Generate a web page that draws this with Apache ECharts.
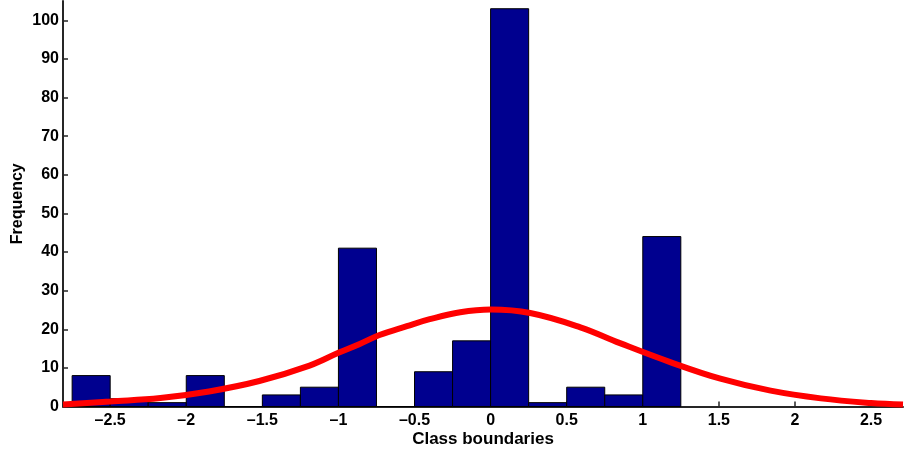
<!DOCTYPE html>
<html>
<head>
<meta charset="utf-8">
<script src="https://cdn.jsdelivr.net/npm/echarts@6/dist/echarts.min.js"></script>
</head>
<body style="margin:0;background:#fff">
<div id="main" style="width:904px;height:451px;"></div>
<script type="text/javascript">
    // histogram bins (left edge, right edge) and counts
    var binLeft  = [-2.75, -2.5, -2.25, -2, -1.75, -1.5, -1.25, -1, -0.75, -0.5, -0.25, 0, 0.25, 0.5, 0.75, 1];
    var binRight = [-2.5, -2.25, -2, -1.75, -1.5, -1.25, -1, -0.75, -0.5, -0.25, 0, 0.25, 0.5, 0.75, 1, 1.25];
    var counts   = [8, 2, 1, 8, 0, 3, 5, 41, 0, 9, 17, 103, 1, 5, 3, 44];

    // fitted curve
    var curveX = [-2.81, -2.5, -2.17, -1.85, -1.52, -1.19, -1.0, -0.86, -0.73, -0.55, -0.4, -0.2, 0, 0.26, 0.59, 0.85, 1.18, 1.51, 1.84, 2.17, 2.5, 2.71];
    var curveY = [0.5, 1.3, 2.2, 3.9, 6.6, 10.6, 13.9, 16.2, 18.5, 20.8, 22.6, 24.4, 25.1, 24.2, 20.5, 16.4, 11.5, 7.2, 4.1, 2.1, 0.9, 0.5];

    var xTicks = [-2.5, -2, -1.5, -1, -0.5, 0, 0.5, 1, 1.5, 2, 2.5];
    var yTicks = [0, 10, 20, 30, 40, 50, 60, 70, 80, 90, 100];

    var myChart = echarts.init(document.getElementById('main'));

    var font = 'Liberation Sans, Arial, sans-serif';
    var axisColor = '#262626';

    var option = {
        animation: false,
        grid: { left: 63, right: 1, top: 1, bottom: 44.5, outerBoundsMode: 'none', containLabel: false },
        xAxis: {
            type: 'value',
            min: -2.81,
            max: 2.71,
            name: 'Class boundaries',
            nameLocation: 'middle',
            nameGap: 24,
            nameMoveOverlap: false,
            nameTextStyle: { color: '#000', fontWeight: 'bold', fontSize: 17, fontFamily: font },
            splitLine: { show: false },
            axisLine: { onZero: false, lineStyle: { color: axisColor, width: 2 } },
            axisTick: { inside: true, length: 5, customValues: xTicks, lineStyle: { color: axisColor, width: 1.5 } },
            axisLabel: {
                customValues: xTicks,
                margin: 6,
                color: '#000', fontWeight: 'bold', fontSize: 16, fontFamily: font,
                formatter: function (v) { return String(v).replace('-', '\u2013'); }
            }
        },
        yAxis: {
            type: 'value',
            min: 0,
            max: 105,
            name: 'Frequency',
            nameLocation: 'middle',
            nameGap: 37,
            nameMoveOverlap: false,
            nameTextStyle: { color: '#000', fontWeight: 'bold', fontSize: 16, fontFamily: font },
            splitLine: { show: false },
            axisLine: { show: true, onZero: false, lineStyle: { color: axisColor, width: 2 } },
            axisTick: { show: true, inside: true, length: 5, customValues: yTicks, lineStyle: { color: axisColor, width: 1.5 } },
            axisLabel: {
                customValues: yTicks,
                margin: 4,
                color: '#000', fontWeight: 'bold', fontSize: 16, fontFamily: font
            }
        },
        series: [{
            type: 'custom',
            data: counts.map(function (c, i) { return [binLeft[i], binRight[i], c]; }),
            renderItem: function (params, api) {
                var p0 = api.coord([api.value(0), 0]);
                var p1 = api.coord([api.value(1), api.value(2)]);
                return {
                    type: 'rect',
                    shape: { x: p0[0], y: p1[1], width: p1[0] - p0[0], height: p0[1] - p1[1] },
                    style: { fill: '#00008F', stroke: '#000', lineWidth: 1 }
                };
            },
            z: 2
        }, {
            type: 'line',
            data: curveX.map(function (x, i) { return [x, curveY[i]]; }),
            smooth: 0.4,
            showSymbol: false,
            lineStyle: { color: '#FF0000', width: 6 },
            z: 3
        }]
    };
    myChart.setOption(option);
</script>
</body>
</html>
